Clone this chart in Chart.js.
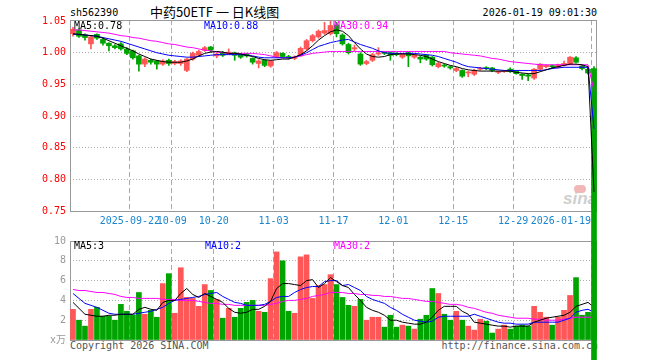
<!DOCTYPE html>
<html>
<head>
<meta charset="utf-8">
<script src="https://cdn.jsdelivr.net/npm/chart.js@4.4.1/dist/chart.umd.min.js"></script>
<style>
  html, body { margin: 0; padding: 0; background: #fff; }
  #wrap { position: relative; width: 660px; height: 360px; overflow: hidden;
          font-family: "DejaVu Sans Mono", "Noto Sans CJK SC", monospace; font-size: 10px; color: #000; }
  #wrap canvas { position: absolute; left: 0; top: 0; }
  .t { position: absolute; white-space: pre; line-height: 12px; }
</style>
</head>
<body>
<div id="wrap">
  <div class="t" style="left:70px;top:7px;">sh562390</div>
  <div class="t" style="left:150px;top:4px;line-height:16px;font-size:13px;font-family:'Noto Sans CJK SC',sans-serif;">中药50ETF 一 日K线图</div>
  <div class="t" style="right:63px;top:7px;">2026-01-19 09:01:30</div>
  <div class="t" style="left:70px;top:340px;color:#555;">Copyright 2026 SINA.COM</div>
  <div class="t" style="right:62px;top:340px;color:#555;">http://finance.sina.com.cn</div>
  <div class="t" style="left:574px;top:185px;width:12px;height:8px;border-radius:6px;background:#f2b8b8;"></div>
  <div class="t" style="left:563px;top:191px;line-height:16px;font-size:17px;font-style:italic;font-weight:bold;color:#cfcfcf;font-family:'Liberation Sans',sans-serif;">sina</div>
  <canvas id="vol" width="660" height="360"></canvas>
  <canvas id="kline" width="660" height="360"></canvas>
  <div class="t" id="lgMa5" style="left:74px;top:20px;color:#000;"></div>
  <div class="t" id="lgMa10" style="left:204px;top:20px;color:#0000ff;"></div>
  <div class="t" id="lgMa30" style="left:334px;top:20px;color:#ff00ff;"></div>
  <div class="t" id="lgVma5" style="left:74px;top:240px;color:#000;"></div>
  <div class="t" id="lgVma10" style="left:205px;top:240px;color:#0000ff;"></div>
  <div class="t" id="lgVma30" style="left:334px;top:240px;color:#ff00ff;"></div>
</div>
<script>
// trading days shown on the chart
var dates = ['09-08','09-09','09-10','09-11','09-12','09-15','09-16','09-17','09-18','09-19',
  '09-22','09-23','09-24','09-25','09-26','09-29','09-30','10-09','10-10','10-13',
  '10-14','10-15','10-16','10-17','10-20','10-21','10-22','10-23','10-24','10-27',
  '10-28','10-29','10-30','10-31','11-03','11-04','11-05','11-06','11-07','11-10',
  '11-11','11-12','11-13','11-14','11-17','11-18','11-19','11-20','11-21','11-24',
  '11-25','11-26','11-27','11-28','12-01','12-02','12-03','12-04','12-05','12-08',
  '12-09','12-10','12-11','12-12','12-15','12-16','12-17','12-18','12-19','12-22',
  '12-23','12-24','12-25','12-26','12-29','12-30','12-31','01-05','01-06','01-07',
  '01-08','01-09','01-12','01-13','01-14','01-15','01-16','01-19'];

// x tick labels (date -> text); the last one is kept inside the plot
var dateTicks = {'09-22':'2025-09-22','10-09':'10-09','10-20':'10-20','11-03':'11-03','11-17':'11-17',
  '12-01':'12-01','12-15':'12-15','12-29':'12-29','01-19':'2026-01-19          '};
var priceTicks = [0.75, 0.80, 0.85, 0.90, 0.95, 1.00, 1.05];
var volTicks = [0, 2, 4, 6, 8, 10];

var open = [1.030,1.036,1.028,1.014,1.029,1.021,1.015,1.011,1.014,1.006, 1.003,0.995,0.982,0.988,0.987,0.982,0.988,0.983,0.983,0.972,
  0.990,0.996,1.004,1.009,0.995,1.000,0.998,1.000,0.997,0.998, 0.991,0.983,0.988,0.979,0.994,0.999,0.994,0.991,0.995,1.006,
  1.019,1.025,1.031,1.030,1.044,1.028,1.013,1.006,0.998,0.983, 0.988,0.998,1.000,1.000,0.998,0.993,1.000,0.993,0.993,0.996,
  0.993,0.978,0.980,0.978,0.972,0.972,0.968,0.966,0.974,0.976, 0.976,0.969,0.970,0.974,0.971,0.966,0.965,0.960,0.974,0.978,
  0.979,0.977,0.980,0.982,0.992,0.979,0.974,0.975];
var high = [1.040,1.038,1.030,1.027,1.030,1.023,1.016,1.013,1.016,1.008, 1.004,0.996,0.992,0.990,0.988,0.989,0.990,0.988,0.989,0.991,
  1.001,1.004,1.010,1.010,1.000,1.002,1.006,1.001,0.999,0.999, 0.992,0.989,0.989,0.988,1.002,1.000,0.996,0.995,1.009,1.021,
  1.029,1.036,1.048,1.050,1.048,1.030,1.015,1.012,1.000,0.988, 0.999,1.008,1.002,1.001,1.000,0.999,1.001,0.998,0.995,0.997,
  0.994,0.985,0.982,0.979,0.977,0.973,0.971,0.974,0.977,0.978, 0.977,0.971,0.972,0.976,0.972,0.967,0.966,0.975,0.983,0.981,
  0.981,0.982,0.987,0.994,0.994,0.980,0.976,0.978];
var low = [1.026,1.024,1.020,1.006,1.021,1.012,1.003,1.006,1.004,0.997, 0.990,0.971,0.978,0.982,0.974,0.980,0.980,0.981,0.980,0.970,
  0.988,0.994,1.002,1.001,0.992,0.994,0.997,0.988,0.991,0.993, 0.982,0.976,0.978,0.977,0.992,0.992,0.990,0.989,0.994,1.004,
  1.017,1.023,1.029,1.028,1.025,1.012,0.998,1.003,0.980,0.981, 0.986,0.996,0.997,0.988,0.995,0.991,0.978,0.991,0.984,0.988,
  0.979,0.976,0.977,0.974,0.970,0.961,0.962,0.964,0.972,0.973, 0.970,0.967,0.969,0.969,0.966,0.958,0.956,0.958,0.972,0.976,
  0.976,0.976,0.979,0.981,0.984,0.973,0.966,0];
var close = [1.037,1.026,1.024,1.025,1.023,1.015,1.011,1.008,1.006,0.999, 0.992,0.982,0.990,0.985,0.982,0.987,0.983,0.986,0.987,0.990,
  0.999,1.002,1.008,1.004,0.998,0.996,1.001,0.996,0.993,0.995, 0.985,0.987,0.980,0.987,1.000,0.994,0.992,0.993,1.007,1.019,
  1.027,1.034,1.035,1.043,1.030,1.014,1.000,1.008,0.982,0.986, 0.997,0.999,0.999,0.996,0.997,0.998,0.995,0.996,0.990,0.990,
  0.981,0.983,0.979,0.976,0.975,0.963,0.969,0.972,0.975,0.975, 0.972,0.970,0.971,0.970,0.967,0.964,0.963,0.974,0.982,0.980,
  0.978,0.981,0.983,0.993,0.985,0.975,0.968,0];

var ma5 = [1.030,1.029,1.028,1.027,1.026,1.023,1.019,1.015,1.011,1.007, 1.003,0.998,0.994,0.990,0.988,0.986,0.985,0.985,0.985,0.987,
  0.990,0.995,0.999,1.001,1.002,1.001,0.999,0.999,0.998,0.996, 0.994,0.991,0.989,0.988,0.989,0.990,0.990,0.993,0.997,1.003,
  1.011,1.020,1.027,1.033,1.036,1.034,1.027,1.016,1.006,0.998, 0.994,0.993,0.994,0.997,0.998,0.998,0.998,0.997,0.996,0.994,
  0.990,0.986,0.983,0.980,0.978,0.975,0.973,0.972,0.971,0.971, 0.971,0.971,0.971,0.971,0.969,0.968,0.967,0.967,0.970,0.973,
  0.976,0.978,0.980,0.982,0.982,0.981,0.978,0.780];
var ma10 = [1.029,1.029,1.028,1.027,1.026,1.024,1.022,1.020,1.018,1.015, 1.012,1.009,1.006,1.003,1.000,0.998,0.996,0.995,0.994,0.993,
  0.993,0.994,0.995,0.996,0.997,0.997,0.997,0.997,0.997,0.996, 0.995,0.993,0.992,0.992,0.992,0.992,0.992,0.993,0.996,1.000,
  1.005,1.010,1.013,1.016,1.018,1.020,1.021,1.017,1.013,1.010, 1.007,1.003,1.000,0.999,0.999,0.999,0.999,0.999,0.998,0.997,
  0.996,0.994,0.991,0.988,0.985,0.981,0.978,0.977,0.976,0.975, 0.974,0.973,0.972,0.972,0.972,0.972,0.972,0.972,0.972,0.973,
  0.975,0.976,0.977,0.977,0.977,0.977,0.977,0.880];
var ma30 = [1.036,1.036,1.035,1.034,1.033,1.032,1.031,1.029,1.027,1.026, 1.024,1.023,1.021,1.019,1.018,1.016,1.014,1.013,1.011,1.009,
  1.008,1.006,1.004,1.003,1.001,1.000,0.999,0.999,0.999,0.999, 0.999,0.998,0.997,0.995,0.993,0.992,0.992,0.993,0.995,0.997,
  0.999,1.000,1.001,1.002,1.002,1.002,1.002,1.002,1.002,1.002, 1.002,1.002,1.002,1.002,1.002,1.002,1.002,1.002,1.002,1.002,
  1.002,1.002,1.002,1.000,0.999,0.998,0.997,0.996,0.995,0.993, 0.991,0.990,0.988,0.986,0.985,0.984,0.983,0.982,0.981,0.981,
  0.981,0.981,0.981,0.981,0.981,0.981,0.981,0.940];

// volume, unit: 10k shares
var volume = [3.1,2.0,1.4,3.1,3.3,2.4,2.4,2.0,3.6,2.9, 2.5,4.8,2.6,3.0,2.3,5.7,6.7,2.7,7.3,4.3,
  4.2,3.4,5.6,5.0,4.1,2.2,3.2,2.3,3.2,3.8, 4.0,2.9,2.8,6.2,8.9,8.0,2.9,2.7,8.4,8.6,
  4.2,5.5,5.6,6.6,5.6,4.3,3.5,3.4,4.1,2.0, 2.3,2.3,1.3,2.5,1.3,1.5,1.4,1.1,2.1,2.5,
  5.2,4.7,2.6,2.0,2.9,2.0,1.4,1.0,2.1,1.9, 0.7,1.1,1.5,1.1,1.4,1.5,1.4,3.4,2.8,2.3,
  1.5,2.3,3.0,4.5,6.3,2.5,2.8,2.5];
var vma5 = [3.8,3.2,2.6,2.5,2.4,2.4,2.5,2.5,2.6,2.6, 2.6,3.1,3.3,3.1,3.0,3.8,4.0,4.0,4.7,5.2,
  4.6,4.3,4.7,4.4,4.1,3.8,3.2,2.8,2.7,2.8, 3.1,3.1,3.4,3.9,5.2,5.7,5.7,5.6,5.5,6.0,
  6.1,5.3,5.7,6.3,5.9,5.5,5.3,4.6,4.0,3.3, 3.0,2.8,2.5,2.0,2.0,1.8,1.7,1.6,1.6,1.8,
  2.3,3.0,3.4,3.4,3.4,2.9,2.6,1.8,1.7,1.6, 1.5,1.4,1.4,1.3,1.4,1.4,1.4,1.8,2.0,2.2,
  2.3,2.4,2.5,2.8,3.4,3.6,3.8,3.3];
var vma10 = [4.7,4.2,3.7,3.5,3.3,3.0,2.7,2.6,2.6,2.6, 2.6,2.7,2.8,2.9,3.1,3.3,3.7,4.0,4.1,4.2,
  4.3,4.4,4.6,4.7,4.8,4.4,4.1,3.8,3.7,3.5, 3.5,3.5,3.6,3.9,4.3,4.4,4.4,4.8,5.1,5.3,
  5.4,5.4,5.9,6.0,6.0,5.5,5.6,5.3,5.0,4.4, 4.1,3.9,3.7,3.3,3.0,2.6,2.3,2.0,1.9,1.8,
  1.9,2.3,2.4,2.4,2.4,2.4,2.4,2.6,2.4,2.2, 2.0,1.8,1.7,1.7,1.6,1.6,1.6,1.8,1.8,1.8,
  1.8,1.8,2.0,2.2,2.8,3.0,3.1,2.8];
var vma30 = [5.1,5.0,5.0,4.9,4.8,4.8,4.7,4.6,4.4,4.3, 4.3,4.2,4.2,4.2,4.2,4.1,4.1,4.1,4.0,4.0,
  4.0,3.9,3.8,3.7,3.7,3.6,3.6,3.5,3.5,3.5, 3.5,3.5,3.5,3.6,3.7,3.9,4.0,4.0,4.1,4.2,
  4.4,4.5,4.6,4.8,4.8,4.8,4.7,4.7,4.6,4.6, 4.5,4.5,4.4,4.4,4.3,4.2,4.2,4.1,4.0,3.9,
  3.9,3.8,3.7,3.6,3.6,3.5,3.3,3.2,3.0,2.8, 2.7,2.5,2.4,2.3,2.2,2.2,2.2,2.1,2.1,2.0,
  2.0,2.0,2.1,2.2,2.3,2.3,2.3,2.3];

var RED = '#ff5757', GREEN = '#00a400';
var colors = close.map(function(c, i) { return c >= open[i] ? RED : GREEN; });
var MONO = "'DejaVu Sans Mono', 'Noto Sans CJK SC', monospace";
var last = dates.length - 1;

document.getElementById('lgMa5').textContent = 'MA5:' + ma5[last].toFixed(2);
document.getElementById('lgMa10').textContent = 'MA10:' + ma10[last].toFixed(2);
document.getElementById('lgMa30').textContent = 'MA30:' + ma30[last].toFixed(2);
document.getElementById('lgVma5').textContent = 'MA5:' + Math.floor(vma5[last]);
document.getElementById('lgVma10').textContent = 'MA10:' + Math.floor(vma10[last]);
document.getElementById('lgVma30').textContent = 'MA30:' + Math.floor(vma30[last]);

// grey frame around the plot area, under the data
var frame = {
  id: 'frame',
  beforeDatasetsDraw: function(chart) {
    var a = chart.chartArea, c = chart.ctx;
    c.save();
    c.strokeStyle = '#999';
    c.lineWidth = 1;
    c.strokeRect(a.left + 0.5, a.top + 0.5, a.right - a.left - 1, a.bottom - a.top);
    c.restore();
  }
};

function dateGrid(ctx) {
  return dateTicks[dates[ctx.index]] ? '#aaa' : 'rgba(0,0,0,0)';
}

function lineSet(data, color) {
  return { type: 'line', data: data, borderColor: color, borderWidth: 1, pointRadius: 0,
           tension: 0, fill: false, order: 0 };
}

function xAxis(showLabels) {
  return {
    type: 'category', offset: true,
    grid: { offset: true, drawTicks: false, color: dateGrid },
    border: { display: false, dash: [5, 3] },
    ticks: { display: showLabels, autoSkip: false, maxRotation: 0, minRotation: 0, padding: 4,
             labelOffset: -3, color: '#1a86d0', font: { family: MONO, size: 10 },
             callback: function(v, i) { return dateTicks[dates[i]] || ''; } },
    afterFit: function(s) { s.height = showLabels ? 20 : 0; }
  };
}

new Chart(document.getElementById('kline').getContext('2d'), {
  type: 'bar',
  data: {
    labels: dates,
    datasets: [
      lineSet(ma5, '#000000'),
      lineSet(ma10, '#0000ff'),
      lineSet(ma30, '#ff00ff'),
      { type: 'bar', data: open.map(function(o, i) { return [o, close[i]]; }), backgroundColor: colors,
        barThickness: 5, minBarLength: 1, grouped: false, order: 1, clip: false },
      { type: 'bar', data: low.map(function(l, i) { return [l, high[i]]; }), backgroundColor: colors,
        barThickness: 1, grouped: false, order: 2, clip: false }
    ]
  },
  options: {
    responsive: false, animation: false, events: [],
    layout: { padding: { left: 0, right: 63, top: 20, bottom: 129 } },
    plugins: { legend: { display: false }, tooltip: { enabled: false } },
    scales: {
      x: xAxis(true),
      y: {
        min: 0.75, max: 1.0517,
        grid: { drawTicks: false, color: function(ctx) {
          var v = ctx.tick ? ctx.tick.value : 0;
          return (v > 0.76 && v < 1.04) ? '#aaa' : 'rgba(0,0,0,0)'; } },
        border: { display: false, dash: [1, 2] },
        afterBuildTicks: function(s) { s.ticks = priceTicks.map(function(v) { return { value: v }; }); },
        ticks: { padding: 4, color: '#ff0000', font: { family: MONO, size: 10 },
                 callback: function(v) { return Number(v).toFixed(2); } },
        afterFit: function(s) { s.width = 70; }
      }
    }
  },
  plugins: [frame]
});

new Chart(document.getElementById('vol').getContext('2d'), {
  type: 'bar',
  data: {
    labels: dates,
    datasets: [
      lineSet(vma5, '#000000'),
      lineSet(vma10, '#0000ff'),
      lineSet(vma30, '#ff00ff'),
      { type: 'bar', data: volume, backgroundColor: colors, barThickness: 5, order: 1 }
    ]
  },
  options: {
    responsive: false, animation: false, events: [],
    layout: { padding: { left: 0, right: 63, top: 241, bottom: 20 } },
    plugins: { legend: { display: false }, tooltip: { enabled: false } },
    scales: {
      x: xAxis(false),
      y: {
        min: 0, max: 10,
        grid: { drawTicks: false, color: function(ctx) {
          var v = ctx.tick ? ctx.tick.value : 0;
          return (v > 0 && v < 10) ? '#aaa' : 'rgba(0,0,0,0)'; } },
        border: { display: false, dash: [1, 2] },
        afterBuildTicks: function(s) { s.ticks = volTicks.map(function(v) { return { value: v }; }); },
        ticks: { padding: 4, color: '#999', font: { family: MONO, size: 10 },
                 callback: function(v) { return v === 0 ? 'x万' : String(v); } },
        afterFit: function(s) { s.width = 70; }
      }
    }
  },
  plugins: [frame]
});
</script>
</body>
</html>
